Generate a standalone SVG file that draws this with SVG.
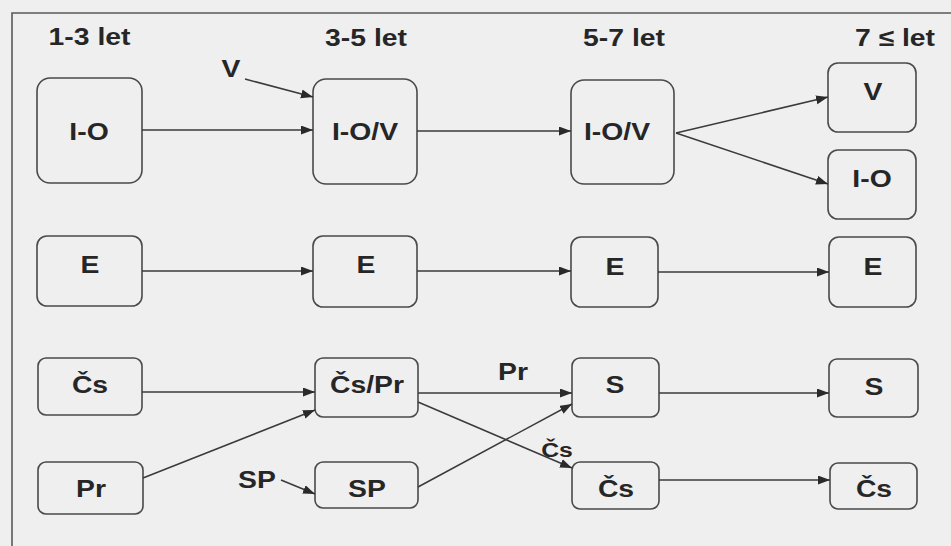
<svg xmlns="http://www.w3.org/2000/svg" width="951" height="546" viewBox="0 0 951 546">
<defs>
<marker id="ah" markerWidth="13" markerHeight="10" refX="12" refY="4.5" orient="auto" markerUnits="userSpaceOnUse">
<path d="M0,0 L12,4.5 L0,9 z" fill="#2a2a2a"/>
</marker>
<style>
.bx{fill:none;stroke:#4a4a4a;stroke-width:1.6}
.t{font-family:"Liberation Sans",Arial,sans-serif;font-weight:bold;font-size:24px;fill:#262626;text-anchor:middle}
.s{font-size:21px}
.c{stroke:#3a3a3a;stroke-width:1.5;fill:none;marker-end:url(#ah)}
.fr{stroke:#5a5a5a;stroke-width:1.6;fill:none}
</style>
</defs>
<rect width="951" height="546" fill="#efefef"/>
<path class="fr" d="M951,13 H12 V546"/>

<g id="headers">
<text class="t" transform="translate(89.5,45) scale(1.18,1)">1-3 let</text>
<text class="t" transform="translate(366,46) scale(1.18,1)">3-5 let</text>
<text class="t" transform="translate(624,46) scale(1.18,1)">5-7 let</text>
<text class="t" transform="translate(895,46) scale(1.18,1)">7 ≤ let</text>
</g>

<g id="n1_io"><rect class="bx" x="37" y="78" width="105" height="105" rx="13"/><text class="t" transform="translate(89,140) scale(1.18,1)">I-O</text></g>
<g id="n2_iov"><rect class="bx" x="313" y="79" width="104" height="105" rx="13"/><text class="t" transform="translate(365,140) scale(1.18,1)">I-O/V</text></g>
<g id="n3_iov"><rect class="bx" x="571" y="80" width="103" height="104" rx="13"/><text class="t" transform="translate(617,140) scale(1.18,1)">I-O/V</text></g>
<g id="n4_v"><rect class="bx" x="828" y="63" width="88" height="69" rx="10"/><text class="t" transform="translate(873,100) scale(1.18,1)">V</text></g>
<g id="n4_io"><rect class="bx" x="828" y="150" width="88" height="69" rx="10"/><text class="t" transform="translate(872,187) scale(1.18,1)">I-O</text></g>

<g id="n1_e"><rect class="bx" x="37" y="236" width="105" height="70" rx="10"/><text class="t" transform="translate(90,273) scale(1.18,1)">E</text></g>
<g id="n2_e"><rect class="bx" x="313" y="236" width="104" height="71" rx="10"/><text class="t" transform="translate(366,273) scale(1.18,1)">E</text></g>
<g id="n3_e"><rect class="bx" x="571" y="237" width="87" height="70" rx="10"/><text class="t" transform="translate(615,275) scale(1.18,1)">E</text></g>
<g id="n4_e"><rect class="bx" x="829" y="237" width="87" height="70" rx="10"/><text class="t" transform="translate(873,275) scale(1.18,1)">E</text></g>

<g id="n1_cs"><rect class="bx" x="38" y="358" width="104" height="57" rx="8"/><text class="t" transform="translate(90,393) scale(1.18,1)">Čs</text></g>
<g id="n2_cspr"><rect class="bx" x="315" y="358" width="103" height="59" rx="8"/><text class="t" transform="translate(367,393) scale(1.18,1)">Čs/Pr</text></g>
<g id="n3_s"><rect class="bx" x="572" y="358" width="87" height="59" rx="8"/><text class="t" transform="translate(615,393) scale(1.18,1)">S</text></g>
<g id="n4_s"><rect class="bx" x="829" y="359" width="89" height="58" rx="8"/><text class="t" transform="translate(874,395) scale(1.18,1)">S</text></g>

<g id="n1_pr"><rect class="bx" x="38" y="462" width="105" height="52" rx="8"/><text class="t" transform="translate(91,497) scale(1.18,1)">Pr</text></g>
<g id="n2_sp"><rect class="bx" x="315" y="462" width="103" height="46" rx="8"/><text class="t" transform="translate(367,497) scale(1.18,1)">SP</text></g>
<g id="n3_cs"><rect class="bx" x="572" y="462" width="87" height="47" rx="8"/><text class="t" transform="translate(616,497) scale(1.18,1)">Čs</text></g>
<g id="n4_cs"><rect class="bx" x="830" y="463" width="87" height="46" rx="8"/><text class="t" transform="translate(874,497) scale(1.18,1)">Čs</text></g>

<g id="connectors">
<line class="c" x1="142" y1="130" x2="313" y2="130"/>
<line class="c" x1="245" y1="79" x2="313" y2="97"/>
<line class="c" x1="417" y1="131" x2="571" y2="131"/>
<line class="c" x1="676" y1="133" x2="828" y2="97"/>
<line class="c" x1="676" y1="133" x2="828" y2="184"/>
<line class="c" x1="142" y1="271" x2="313" y2="271"/>
<line class="c" x1="417" y1="271" x2="571" y2="271"/>
<line class="c" x1="658" y1="272" x2="829" y2="272"/>
<line class="c" x1="142" y1="392" x2="315" y2="392"/>
<line class="c" x1="143" y1="478" x2="315" y2="410"/>
<line class="c" x1="281" y1="480" x2="315" y2="494"/>
<line class="c" x1="418" y1="393" x2="572" y2="393"/>
<line class="c" x1="418" y1="402" x2="572" y2="468"/>
<line class="c" x1="418" y1="487" x2="572" y2="404"/>
<line class="c" x1="659" y1="393" x2="829" y2="393"/>
<line class="c" x1="659" y1="480" x2="830" y2="480"/>
</g>

<g id="labels">
<text class="t" transform="translate(231,77) scale(1.18,1)">V</text>
<text class="t" transform="translate(257,488) scale(1.18,1)">SP</text>
<text class="t" transform="translate(513,380) scale(1.18,1)">Pr</text>
<text class="t s" transform="translate(557,457) scale(1.18,1)">Čs</text>
</g>
</svg>
